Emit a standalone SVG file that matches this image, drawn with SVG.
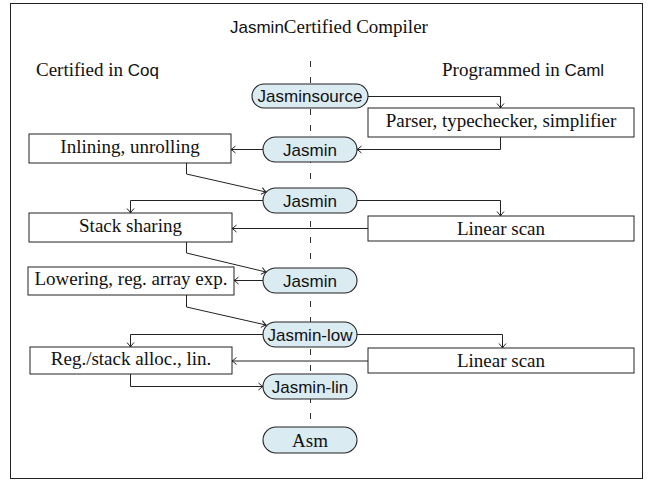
<svg xmlns="http://www.w3.org/2000/svg" width="651" height="481" viewBox="0 0 651 481">
<defs>
<marker id="arr" markerUnits="userSpaceOnUse" markerWidth="10" markerHeight="10" viewBox="-6 -5 8 10" refX="0" refY="0" orient="auto">
<path d="M-4.5,-3.5 Q-1.5,-0.8 0,0 Q-1.5,0.8 -4.5,3.5" fill="none" stroke="#222" stroke-width="1"/>
</marker>
</defs>
<style>
.box{fill:#fff;stroke:#222;stroke-width:1}
.pill{fill:#dbebf2;stroke:#222;stroke-width:1.1}
.serif{font-family:"Liberation Serif","Times New Roman",serif;font-size:19px;fill:#111}
.sans{font-family:"Liberation Sans",Arial,sans-serif;font-size:17px;fill:#111}
.c{text-anchor:middle}
.conn{fill:none;stroke:#222;stroke-width:1;marker-end:url(#arr)}
.dash{fill:none;stroke:#333;stroke-width:1;stroke-dasharray:6 10}
</style>
<rect x="0" y="0" width="651" height="481" fill="#fff"/>
<rect id="frame" x="10.5" y="3.5" width="632" height="475" fill="none" stroke="#222" stroke-width="1"/>
<g id="labels">
<text x="230" y="33" class="serif"><tspan class="sans">Jasmin</tspan>Certified Compiler</text>
<text x="36" y="76" class="serif">Certified in <tspan class="sans">Coq</tspan></text>
<text x="442" y="76" class="serif">Programmed in <tspan class="sans">Caml</tspan></text>
</g>
<path class="dash" d="M310.5,61 V459"/>
<g id="connectors">
<path class="conn" d="M368,96.5 H500.5 V108"/>
<path class="conn" d="M500.5,137 V149.5 H357"/>
<path class="conn" d="M263,149.5 H231"/>
<path class="conn" d="M186.5,163 V174 L266,192"/>
<path class="conn" d="M263,200.5 H130.5 V213"/>
<path class="conn" d="M357,200.5 H500.5 V216"/>
<path class="conn" d="M368,228.5 H232"/>
<path class="conn" d="M186.5,242 V253 L266,272"/>
<path class="conn" d="M263,280.5 H234"/>
<path class="conn" d="M186.5,295 V307 L266,325"/>
<path class="conn" d="M263,334.5 H130.5 V347"/>
<path class="conn" d="M357,334.5 H502.5 V348"/>
<path class="conn" d="M368,361 H232"/>
<path class="conn" d="M130.5,374 V386.5 H263"/>
</g>
<g id="n-jasminsource"><rect class="pill" x="252" y="84" width="116" height="24" rx="12"/><text class="sans c" x="310" y="102">Jasminsource</text></g>
<g id="n-parser"><rect class="box" x="368" y="108" width="266" height="29"/><text class="serif c" x="501" y="127">Parser, typechecker, simplifier</text></g>
<g id="n-jasmin1"><rect class="pill" x="263" y="137" width="94" height="25" rx="12.5"/><text class="sans c" x="310" y="155.5">Jasmin</text></g>
<g id="n-inlining"><rect class="box" x="29" y="134" width="202" height="29"/><text class="serif c" x="130" y="153">Inlining, unrolling</text></g>
<g id="n-jasmin2"><rect class="pill" x="263" y="188" width="94" height="25" rx="12.5"/><text class="sans c" x="310" y="206.5">Jasmin</text></g>
<g id="n-stack"><rect class="box" x="29" y="213" width="203" height="29"/><text class="serif c" x="130.5" y="232">Stack sharing</text></g>
<g id="n-linear1"><rect class="box" x="368" y="216" width="266" height="25"/><text class="serif c" x="501" y="235">Linear scan</text></g>
<g id="n-jasmin3"><rect class="pill" x="263" y="268" width="94" height="25" rx="12.5"/><text class="sans c" x="310" y="286.5">Jasmin</text></g>
<g id="n-lowering"><rect class="box" x="28" y="267" width="206" height="28"/><text class="serif c" x="131" y="285">Lowering, reg. array exp.</text></g>
<g id="n-jasminlow"><rect class="pill" x="263" y="322" width="94" height="25" rx="12.5"/><text class="sans c" x="310" y="340.5">Jasmin-low</text></g>
<g id="n-regalloc"><rect class="box" x="30" y="347" width="202" height="27"/><text class="serif c" x="131" y="365">Reg./stack alloc., lin.</text></g>
<g id="n-linear2"><rect class="box" x="368" y="348" width="266" height="25"/><text class="serif c" x="501" y="367">Linear scan</text></g>
<g id="n-jasminlin"><rect class="pill" x="263" y="374" width="94" height="25" rx="12.5"/><text class="sans c" x="310" y="392.5">Jasmin-lin</text></g>
<g id="n-asm"><rect class="pill" x="263" y="427" width="94" height="26" rx="13"/><text class="serif c" x="310" y="447">Asm</text></g>
</svg>
